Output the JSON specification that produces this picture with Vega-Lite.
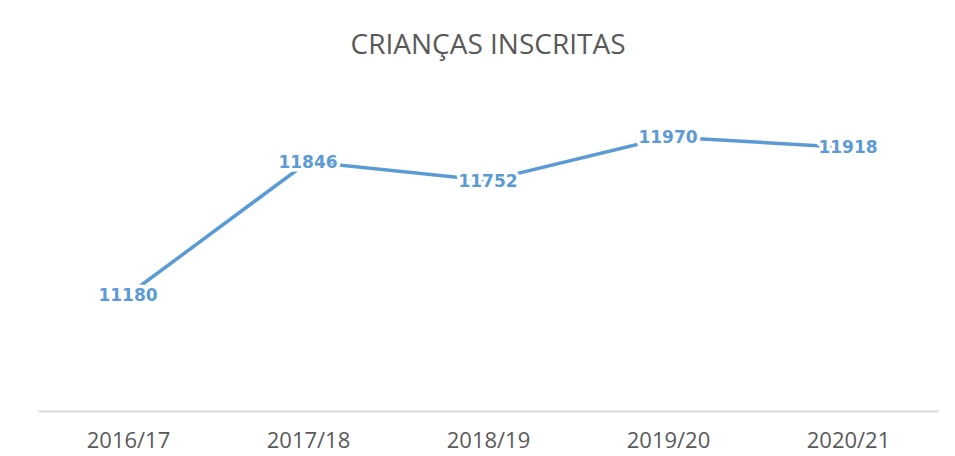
{
  "$schema": "https://vega.github.io/schema/vega-lite/v6.json",
  "width": 900,
  "height": 320,
  "autosize": "none",
  "padding": {"left": 38, "top": 91, "right": 17, "bottom": 45},
  "background": "white",
  "title": {
    "text": "CRIANÇAS INSCRITAS",
    "font": "Open Sans",
    "fontSize": 28,
    "fontWeight": "normal",
    "color": "#595959",
    "anchor": "middle",
    "baseline": "alphabetic",
    "offset": 9
  },
  "data": {
    "values": [
      {"ano": "2016/17", "criancas": 11180},
      {"ano": "2017/18", "criancas": 11846},
      {"ano": "2018/19", "criancas": 11752},
      {"ano": "2019/20", "criancas": 11970},
      {"ano": "2020/21", "criancas": 11918}
    ]
  },
  "config": {"view": {"stroke": null}},
  "encoding": {
    "x": {
      "field": "ano",
      "type": "ordinal",
      "scale": {"type": "point", "padding": 0.5},
      "axis": {
        "title": null,
        "labelAngle": 0,
        "labelFont": "Open Sans",
        "labelFontSize": 22,
        "labelColor": "#595959",
        "labelBaseline": "alphabetic",
        "labelPadding": 36,
        "ticks": false,
        "domainColor": "#D9D9D9",
        "domainWidth": 2,
        "grid": false
      }
    },
    "y": {
      "field": "criancas",
      "type": "quantitative",
      "scale": {"domain": [10600, 12200], "zero": false, "nice": false},
      "axis": null
    }
  },
  "layer": [
    {
      "mark": {"type": "line", "color": "#5B9BD5", "strokeWidth": 3.5, "strokeCap": "round"}
    },
    {
      "mark": {
        "type": "text",
        "font": "DejaVu Sans",
        "fontWeight": "bold",
        "fontSize": 17,
        "baseline": "middle",
        "dy": 1,
        "color": "white",
        "stroke": "white",
        "strokeWidth": 7,
        "strokeJoin": "round"
      },
      "encoding": {"text": {"field": "criancas", "type": "quantitative", "format": "d"}}
    },
    {
      "mark": {
        "type": "text",
        "font": "DejaVu Sans",
        "fontWeight": "bold",
        "fontSize": 17,
        "baseline": "middle",
        "dy": 1,
        "color": "#5B9BD5"
      },
      "encoding": {"text": {"field": "criancas", "type": "quantitative", "format": "d"}}
    }
  ]
}
